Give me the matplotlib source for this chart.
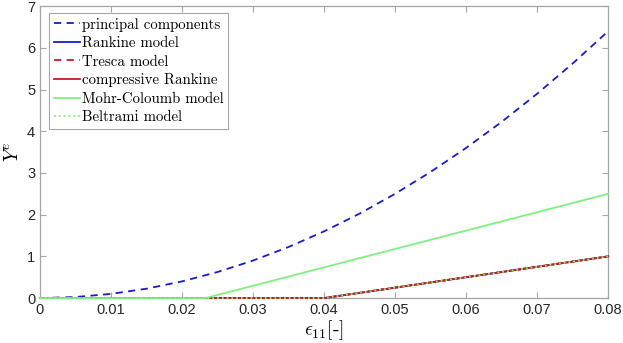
import numpy as np
import matplotlib
matplotlib.use("Agg")
import matplotlib.pyplot as plt

plt.rcParams['mathtext.fontset'] = 'cm'

# strain values (x) and curves
eps = [0.0, 0.005, 0.01, 0.015, 0.02, 0.025, 0.03, 0.035, 0.04,
       0.045, 0.05, 0.055, 0.06, 0.065, 0.07, 0.075, 0.08]
principal = [0.0, 0.025, 0.10, 0.225, 0.40, 0.625, 0.90, 1.225, 1.60,
             2.025, 2.50, 3.025, 3.60, 4.225, 4.90, 5.625, 6.40]

eps_kink = [0.0, 0.04, 0.08]
rankine = [0.0, 0.0, 1.0]
tresca = [0.0, 0.0, 1.0]
comp_rankine = [0.0, 0.0, 1.0]
beltrami = [0.0, 0.0, 1.0]

eps_mc = [0.0, 0.0233, 0.08]
mohr = [0.0, 0.0, 2.5]

blue = '#1a1acc'
red = '#cc1a1a'
green = '#80f080'

fig = plt.figure(figsize=(6.23, 3.43), dpi=100)
ax = fig.add_axes([0.0642, 0.131, 0.912, 0.851])

kw = dict(lw=1.3, clip_on=False, zorder=3)
ax.plot(eps, principal, '--', color=blue, dashes=(4, 3), label='principal components', **kw)
ax.plot(eps_kink, rankine, '-', color=blue, label='Rankine model', **kw)
ax.plot(eps_kink, tresca, '--', color=red, dashes=(4, 3), label='Tresca model', **kw)
ax.plot(eps_kink, comp_rankine, '-', color=red, label='compressive Rankine', **kw)
ax.plot(eps_mc, mohr, '-', color=green, label='Mohr-Coloumb model', **kw)
ax.plot(eps_kink, beltrami, ':', color=green, label='Beltrami model', **kw)

ax.set_xlim(0, 0.08)
ax.set_ylim(0, 7)
ax.set_xticks(np.arange(0, 0.081, 0.01))
ax.set_xticklabels(['0', '0.01', '0.02', '0.03', '0.04', '0.05', '0.06', '0.07', '0.08'])
ax.set_yticks(range(0, 8))

for s in ax.spines.values():
    s.set_color('#a6a6a6')
    s.set_linewidth(0.9)
ax.tick_params(direction='in', top=True, right=True, length=4, color='#a6a6a6',
               labelcolor='#262626', labelsize=10.5, width=0.8)
for lab in ax.get_xticklabels() + ax.get_yticklabels():
    lab.set_family('Liberation Sans')

ax.set_xlabel(r'$\epsilon_{11}[\text{-}]$', fontsize=14, labelpad=1)
ax.set_ylabel(r'$\overline{Y}^e$', fontsize=14)
ax.yaxis.set_label_coords(-0.030, 0.5)

leg = ax.legend(loc='upper left', bbox_to_anchor=(0.016, 0.976), borderaxespad=0,
                prop={'family': 'cmr10', 'size': 10.7},
                handlelength=1.75, handletextpad=0.15, borderpad=0.3,
                labelspacing=0.32, fancybox=False, framealpha=1)
leg.get_frame().set_edgecolor('#a6a6a6')
leg.get_frame().set_linewidth(0.8)

fig.savefig('out.png', dpi=100)
